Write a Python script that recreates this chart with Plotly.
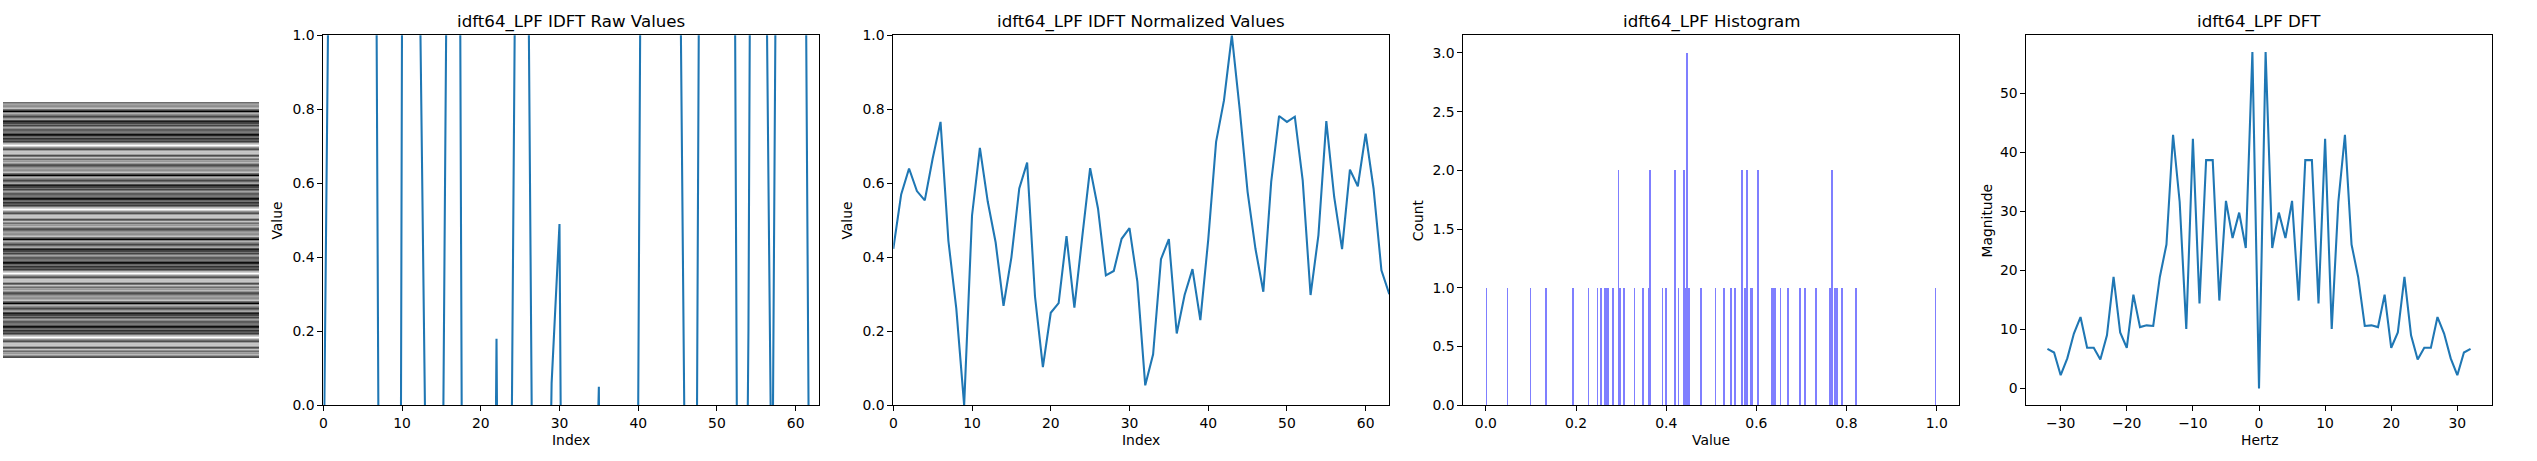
import plotly.graph_objects as go

W, H = 2537, 461

index = list(range(64))
raw_values = [-0.3, 1.9, 3.0, 2.05, 1.66, 3.4, 4.6, -0.04, -2.87, -6.93, 1.06, 3.86, 1.6, -0.16, -2.76, -0.73,
              2.15, 3.25, -2.37, -5.33, -3.05, -2.65, 0.18, -2.84, 0.12, 3.0, 1.32, -1.5, -1.3, 0.06, 0.49, -1.75,
              -6.1, -4.8, -0.8, 0.05, -3.9, -2.3, -1.2, -3.35, 0.0, 4.1, 5.85, 8.57, 5.4, 2.0, -0.37, -2.17,
              2.44, 5.2, 4.95, 5.15, 2.5, -2.3, 0.2, 5.0, 1.8, -0.4, 2.95, 2.25, 4.45, 2.15, -1.25, -2.3]
norm_values = [0.423, 0.570, 0.640, 0.579, 0.554, 0.667, 0.766, 0.444, 0.262, 0.0, 0.513, 0.696, 0.550, 0.440, 0.269, 0.400,
               0.586, 0.656, 0.294, 0.103, 0.250, 0.276, 0.457, 0.264, 0.455, 0.641, 0.532, 0.351, 0.363, 0.450, 0.479, 0.334,
               0.054, 0.138, 0.395, 0.449, 0.194, 0.298, 0.368, 0.230, 0.447, 0.712, 0.824, 1.0, 0.800, 0.577, 0.423, 0.307,
               0.604, 0.782, 0.766, 0.780, 0.608, 0.298, 0.460, 0.768, 0.563, 0.422, 0.637, 0.592, 0.734, 0.586, 0.365, 0.300]
hist_values = [0.001, 0.0505, 0.101, 0.1335, 0.193, 0.2275, 0.2475, 0.2545, 0.263, 0.267, 0.271, 0.282, 0.2937, 0.2937,
               0.2975, 0.3055, 0.331, 0.349, 0.361, 0.3645, 0.3645, 0.392, 0.400, 0.4195, 0.4195, 0.4275, 0.439, 0.439,
               0.445, 0.449, 0.449, 0.449, 0.453, 0.478, 0.510, 0.5285, 0.5445, 0.5525, 0.5675, 0.5675, 0.578, 0.582,
               0.582, 0.586, 0.593, 0.603, 0.603, 0.6345, 0.638, 0.642, 0.654, 0.670, 0.696, 0.709, 0.732, 0.762, 0.767,
               0.767, 0.777, 0.781, 0.790, 0.821, 0.999]
hertz = list(range(-32, 33))
magnitude = [6.7, 6.1, 2.25, 5.1, 9.3, 12.1, 6.9, 6.9, 4.9, 9.0, 18.9, 9.5, 6.9, 15.9, 10.4, 10.7,
             10.6, 18.9, 24.4, 43.0, 31.6, 10.1, 42.3, 14.4, 38.7, 38.7, 14.9, 31.8, 25.5, 29.8, 23.8, 57.0,
             0.0,
             57.0, 23.8, 29.8, 25.5, 31.8, 14.9, 38.7, 38.7, 14.4, 42.3, 10.1, 31.6, 43.0, 24.4, 18.9, 10.6,
             10.7, 10.4, 15.9, 6.9, 9.5, 18.9, 9.0, 4.9, 6.9, 6.9, 12.1, 9.3, 5.1, 2.25, 6.1, 6.7]
image_rows = [[v, v] for _ in range(4) for v in norm_values]

titles = ["idft64_LPF IDFT Raw Values", "idft64_LPF IDFT Normalized Values", "idft64_LPF Histogram", "idft64_LPF DFT"]
xlabels = ["Index", "Index", "Value", "Hertz"]
ylabels = ["Value", "Value", "Count", "Magnitude"]

TOP, BOTTOM = 35.3, 405.3
boxes = [(323.3, 819.3), (893.3, 1389.3), (1463.3, 1959.3), (2026.3, 2491.7)]
ylabel_x = [277.3, 847.3, 1418.0, 1987.3]
xlabel_y = 440.0
FONT = "DejaVu Sans"
BLUE = "#1f77b4"
INK = "#000000"

fig = go.Figure()
line = dict(color=BLUE, width=2.08)
fig.add_trace(go.Scatter(x=index, y=raw_values, mode="lines", line=line, xaxis="x", yaxis="y"))
fig.add_trace(go.Scatter(x=index, y=norm_values, mode="lines", line=line, xaxis="x2", yaxis="y2"))
fig.add_trace(go.Histogram(x=hist_values, xbins=dict(start=0, end=1.0001, size=1 / 256),
                           marker=dict(color="rgba(0,0,255,0.5)", line=dict(width=0)), xaxis="x3", yaxis="y3"))
fig.add_trace(go.Scatter(x=hertz, y=magnitude, mode="lines", line=line, xaxis="x4", yaxis="y4"))
fig.add_trace(go.Heatmap(z=image_rows, colorscale=[[0, "#000000"], [1, "#ffffff"]], zmin=0, zmax=1,
                         showscale=False, xaxis="x5", yaxis="y5", hoverinfo="skip"))


def ax(domain, rng, **kw):
    d = dict(domain=domain, range=rng, showline=True, mirror=True, linecolor=INK, linewidth=1.11,
             ticks="outside", ticklen=4.86, tickwidth=1.11, tickcolor=INK, showgrid=False, zeroline=False,
             tickfont=dict(family=FONT, size=13.9, color=INK), automargin=False)
    d.update(kw)
    return d


yd = [1 - BOTTOM / H, 1 - TOP / H]
xr = [[0, 63], [0, 63], [-0.05, 1.05], [-35.2, 35.2]]
yr = [[0, 1], [0, 1], [0, 3.15], [-2.85, 59.85]]
xt = [dict(tickvals=list(range(0, 61, 10))), dict(tickvals=list(range(0, 61, 10))),
      dict(tickvals=[0, 0.2, 0.4, 0.6, 0.8, 1.0], tickformat=".1f"),
      dict(tickvals=list(range(-30, 31, 10)))]
yt = [dict(tickvals=[0, 0.2, 0.4, 0.6, 0.8, 1.0], tickformat=".1f"),
      dict(tickvals=[0, 0.2, 0.4, 0.6, 0.8, 1.0], tickformat=".1f"),
      dict(tickvals=[0, 0.5, 1, 1.5, 2, 2.5, 3], tickformat=".1f"),
      dict(tickvals=list(range(0, 51, 10)))]

layout = dict(width=W, height=H, autosize=False, margin=dict(l=0, r=0, t=0, b=0, pad=0),
              paper_bgcolor="white", plot_bgcolor="white", showlegend=False, bargap=0, font=dict(family=FONT))
annotations = []
label_font = dict(family=FONT, size=13.9, color=INK)
for i, (l, r) in enumerate(boxes):
    s = "" if i == 0 else str(i + 1)
    layout["xaxis" + s] = ax([l / W, r / W], xr[i], anchor="y" + s, **xt[i])
    layout["yaxis" + s] = ax(yd, yr[i], anchor="x" + s, **yt[i])
    annotations.append(dict(text=titles[i], xref="paper", yref="paper", x=(l + r) / 2 / W, y=yd[1],
                            xanchor="center", yanchor="bottom", yshift=1.5, showarrow=False,
                            font=dict(family=FONT, size=16.67, color=INK)))
    annotations.append(dict(text=xlabels[i], xref="paper", yref="paper", x=(l + r) / 2 / W, y=1 - xlabel_y / H,
                            xanchor="center", yanchor="middle", showarrow=False, font=label_font))
    annotations.append(dict(text=ylabels[i], xref="paper", yref="paper", x=ylabel_x[i] / W, y=sum(yd) / 2,
                            xanchor="center", yanchor="middle", textangle=-90, showarrow=False, font=label_font))
layout["annotations"] = annotations
layout["xaxis5"] = dict(domain=[3 / W, 259 / W], range=[-0.5, 1.5], visible=False, anchor="y5")
layout["yaxis5"] = dict(domain=[1 - 358 / H, 1 - 102 / H], range=[255.5, -0.5], visible=False, anchor="x5")
fig.update_layout(**layout)

fig.write_html("out.html", config=dict(displayModeBar=False),
               post_script="document.body.style.margin='0';document.body.style.overflow='hidden';")
